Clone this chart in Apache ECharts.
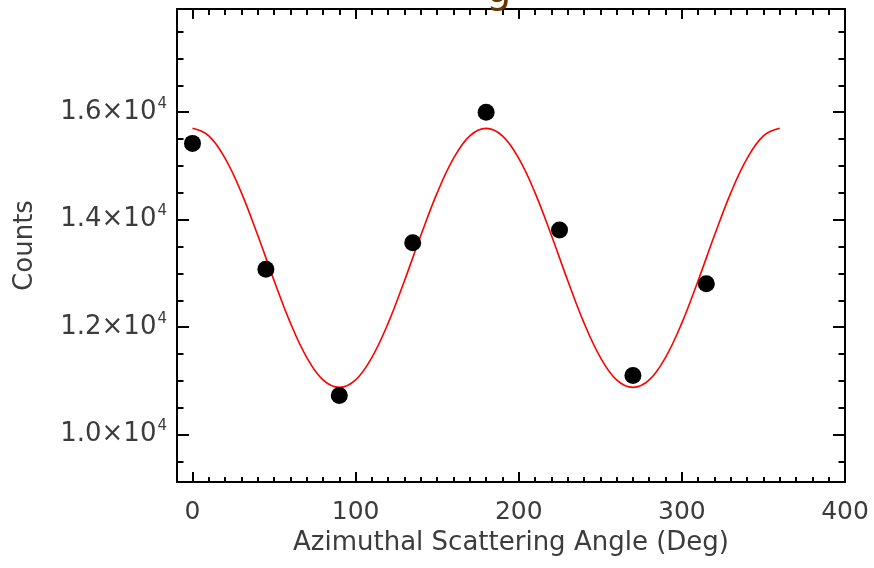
<!DOCTYPE html>
<html>
<head>
<meta charset="utf-8">
<script src="https://cdn.jsdelivr.net/npm/echarts@6/dist/echarts.min.js"></script>
<style>html,body{margin:0;padding:0;background:#fff}#c{width:874px;height:568px}</style>
</head>
<body>
<div id="c"></div>
<script>
// Measured data points
var angles = [0, 45, 90, 135, 180, 225, 270, 315];
var counts = [15420, 13080, 10730, 13570, 16000, 13810, 11100, 12810];
// Fit curve, every 10 degrees
var fitAngles = [0,10,20,30,40,50,60,70,80,90,100,110,120,130,140,150,160,170,180,
                 190,200,210,220,230,240,250,260,270,280,290,300,310,320,330,340,350,360];
var fitValues = [15700,15560,15140,14500,13710,12870,12080,11440,11020,10880,11020,11440,12080,12870,13710,14500,15140,15560,15700,
                 15560,15140,14500,13710,12870,12080,11440,11020,10880,11020,11440,12080,12870,13710,14500,15140,15560,15700];
// Tick values
var xMajorTicks = [0, 100, 200, 300, 400];
var xMinorTicks = [];
for (var i = 0; i <= 400; i += 10) xMinorTicks.push(i);
var yMajorTicks = [10000, 12000, 14000, 16000];
var yMinorTicks = [];
for (var j = 9500; j <= 17500; j += 500) yMinorTicks.push(j);

var XMIN = -9.5, XMAX = 400, YMIN = 9120, YMAX = 17920;
var txt = '#3c3c3c';
var FONT = 'DejaVu Sans';

function xAx(pos, ticks, len, labels) {
  return {
    type: 'value', min: XMIN, max: XMAX, position: pos,
    axisLine: {show: true, onZero: false, lineStyle: {color: '#000', width: 2}},
    axisTick: {show: true, inside: true, length: len, customValues: ticks, lineStyle: {color: '#000', width: 2}},
    axisLabel: labels ? {show: true, customValues: xMajorTicks, fontSize: 25, fontFamily: FONT, color: txt, margin: 18} : {show: false},
    splitLine: {show: false}
  };
}
function yAx(pos, ticks, len, labels) {
  return {
    type: 'value', min: YMIN, max: YMAX, position: pos,
    axisLine: {show: true, onZero: false, lineStyle: {color: '#000', width: 2}},
    axisTick: {show: true, inside: true, length: len, customValues: ticks, lineStyle: {color: '#000', width: 2}},
    axisLabel: labels ? {
      show: true, customValues: yMajorTicks, margin: 10,
      formatter: function (v) { return '{a|' + (v / 10000).toFixed(1) + '×10}{s|4}'; },
      rich: {
        a: {fontSize: 26, fontFamily: FONT, color: txt},
        s: {fontSize: 15, fontFamily: FONT, color: txt, padding: [0, 0, 17, 1]}
      }
    } : {show: false},
    splitLine: {show: false}
  };
}

var xa0 = xAx('bottom', xMajorTicks, 10, true);
xa0.name = 'Azimuthal Scattering Angle (Deg)';
xa0.nameLocation = 'middle';
xa0.nameGap = 41;
xa0.nameTextStyle = {fontSize: 26, fontFamily: FONT, color: txt};
var ya0 = yAx('left', yMajorTicks, 12, true);
ya0.name = 'Counts';
ya0.nameLocation = 'middle';
ya0.nameGap = 139;
ya0.nameRotate = 90;
ya0.nameTextStyle = {fontSize: 26, fontFamily: FONT, color: txt};

var fitData = fitAngles.map(function (a, k) { return [a, fitValues[k]]; });
var ptData = angles.map(function (a, k) { return [a, counts[k]]; });

var chart = echarts.init(document.getElementById('c'), null, {renderer: 'canvas'});
chart.setOption({
  animation: false,
  backgroundColor: '#fff',
  title: {
    text: 'g', left: 481, top: -33,
    textStyle: {fontSize: 40, fontFamily: FONT, color: '#6b3300', fontWeight: 'normal', lineHeight: 40}
  },
  grid: {left: 177, right: 29, top: 9, bottom: 86, containLabel: false},
  xAxis: [xa0, xAx('bottom', xMinorTicks, 5, false), xAx('top', xMajorTicks, 10, false), xAx('top', xMinorTicks, 6, false)],
  yAxis: [ya0, yAx('left', yMinorTicks, 6.5, false), yAx('right', yMajorTicks, 12, false), yAx('right', yMinorTicks, 6.5, false)],
  series: [
    {type: 'line', xAxisIndex: 0, yAxisIndex: 0, data: fitData, smooth: 0.4, symbol: 'none',
     lineStyle: {color: '#ff0000', width: 1.6}, z: 2},
    {type: 'scatter', xAxisIndex: 0, yAxisIndex: 0, data: ptData, symbol: 'circle', symbolSize: 17,
     itemStyle: {color: '#000', opacity: 1}, z: 3}
  ]
});
</script>
</body>
</html>
